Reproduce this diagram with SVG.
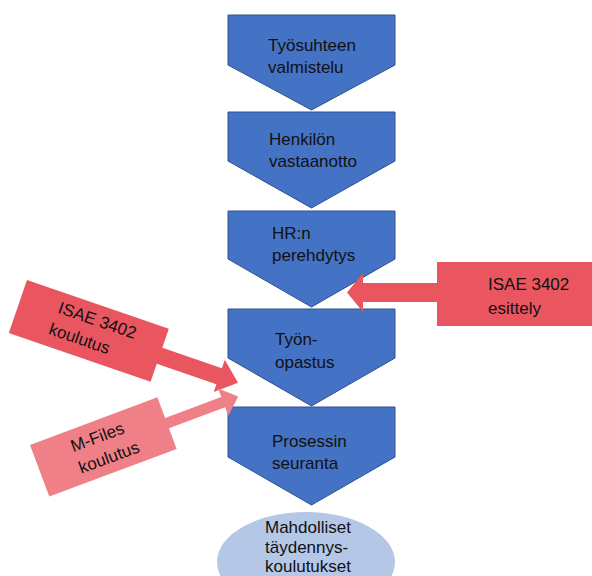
<svg xmlns="http://www.w3.org/2000/svg" width="592" height="576" viewBox="0 0 592 576">
<style>
.step{fill:#4472C4;stroke:#2F528F;stroke-width:1}
.t{font-family:"Liberation Sans",Arial,sans-serif;font-size:17px;fill:#111}
.red{fill:#E9565F}
.pink{fill:#F08088}
.oval{fill:#B4C7E7}
</style>
<rect width="592" height="576" fill="#fff"/>
<g id="n1">
<path class="step" d="M228,15 L395,15 L395,65 L311.5,110 L228,65 Z"/>
<text class="t" x="268" y="51">Työsuhteen</text>
<text class="t" x="268" y="73">valmistelu</text>
</g>
<g id="n2">
<path class="step" d="M228,112 L395,112 L395,161 L311.5,208 L228,161 Z"/>
<text class="t" x="269" y="145">Henkilön</text>
<text class="t" x="269" y="167">vastaanotto</text>
</g>
<g id="n3">
<path class="step" d="M228,211 L395,211 L395,259 L311.5,307 L228,259 Z"/>
<text class="t" x="272" y="239">HR:n</text>
<text class="t" x="272" y="261">perehdytys</text>
</g>
<g id="n4">
<path class="step" d="M228,309 L395,309 L395,358 L311.5,406 L228,358 Z"/>
<text class="t" x="275" y="345">Työn-</text>
<text class="t" x="275" y="368">opastus</text>
</g>
<g id="n5">
<path class="step" d="M228,407 L395,407 L395,457 L311.5,505 L228,457 Z"/>
<text class="t" x="272" y="447">Prosessin</text>
<text class="t" x="272" y="469">seuranta</text>
</g>
<g id="n6">
<ellipse class="oval" cx="306" cy="562" rx="89" ry="50"/>
<text class="t" x="265" y="533">Mahdolliset</text>
<text class="t" x="265" y="553">täydennys-</text>
<text class="t" x="265" y="572">koulutukset</text>
</g>
<g id="connectors">
<g id="a1">
<path class="red" d="M600,262 L437,262 L437,283 L363,283 L363,273 L347,292.5 L363,312 L363,302 L437,302 L437,326 L600,326 Z"/>
<text class="t" x="488" y="290">ISAE 3402</text>
<text class="t" x="488" y="314">esittely</text>
</g>
<g id="a2" transform="translate(27,280) rotate(19)">
<path class="red" d="M0,0 L150,0 L150,20 L213,20 L213,11 L233,28.5 L213,45 L213,37 L150,37 L150,56 L0,56 Z"/>
<text class="t" x="39" y="21">ISAE 3402</text>
<text class="t" x="37" y="44">koulutus</text>
</g>
<g id="a3" transform="translate(30,445) rotate(-20.5)">
<path class="pink" d="M0,0 L136,0 L136,22 L196,22 L196,13 L212,27.5 L196,42 L196,33 L136,33 L136,55 L0,55 Z"/>
<text class="t" x="38" y="22">M-Files</text>
<text class="t" x="38" y="45">koulutus</text>
</g>
</g>
</svg>
